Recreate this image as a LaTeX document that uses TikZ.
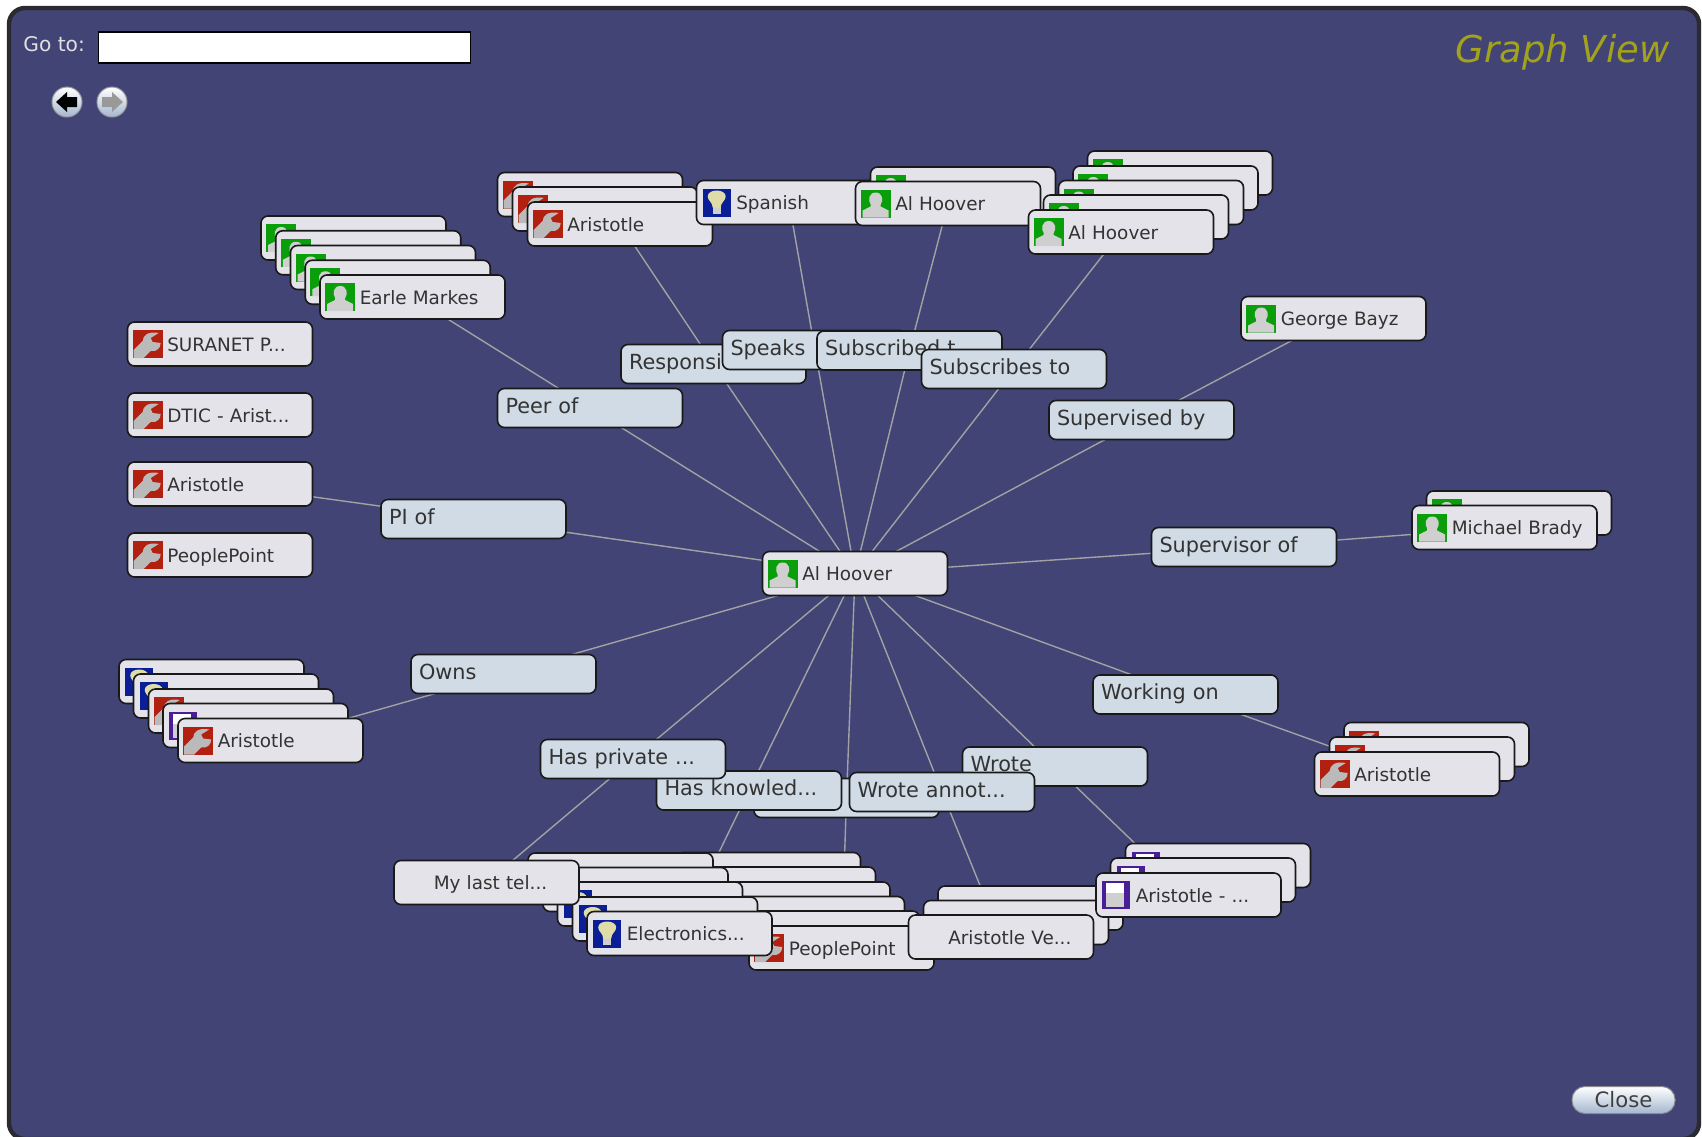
\documentclass[tikz,border=0pt]{standalone}
\usepackage{xcolor}
\usepackage{fontspec}
\setmainfont{DejaVu Sans}
\usepackage{tikz}
\usetikzlibrary{backgrounds}
\definecolor{panelbg}{HTML}{414475}
\definecolor{panelrim}{HTML}{2A2A30}
\definecolor{cardbg}{HTML}{E4E3E9}
\definecolor{labelbg}{HTML}{D0DBE5}
\definecolor{linkgray}{HTML}{A2A2A2}
\definecolor{iconred}{HTML}{B2200F}
\definecolor{icongreen}{HTML}{0A9E0A}
\definecolor{iconblue}{HTML}{0A1E96}
\definecolor{iconpurple}{HTML}{4A1E96}
\definecolor{icongray}{HTML}{CFCFCF}
\definecolor{btnblue}{HTML}{A4B6D0}
\definecolor{titleolive}{HTML}{A3A21C}
\tikzset{
  usericon/.pic={
    \fill[icongreen] (-15,-14) rectangle (15,14);
    \fill[icongray] (-13,14) -- (-13,7) -- (-5,3) -- (-5,1) .. controls (-8,-3) and (-7,-11) .. (0,-11) .. controls (7,-11) and (8,-3) .. (5,1) -- (5,3) -- (13,7) -- (13,14) -- cycle;
  },
  toolicon/.pic={
    \fill[iconred] (-15,-14) rectangle (15,14);
    \fill[icongray!90!black] (11,-11) .. controls (1,-13) and (-5,-9) .. (-5,-3) -- (-14,6) -- (-14,14) -- (-4,14) -- (3,7) .. controls (9,8) and (13,4) .. (13,-1) -- (5,-2) -- (3,-6) -- cycle;
  },
  ideaicon/.pic={
    \fill[iconblue] (-14,-14) rectangle (14,14);
    \fill[icongray] (-4,4) rectangle (4,11);
    \fill[yellow!25!icongray] (-4,5) .. controls (-4,0) and (-9,-2) .. (-9,-6) .. controls (-9,-14) and (9,-14) .. (9,-6) .. controls (9,-2) and (4,0) .. (4,5) -- cycle;
  },
  docicon/.pic={
    \fill[iconpurple] (-14,-14) rectangle (14,14);
    \fill[white] (-10,-12) rectangle (8,12);
    \fill[icongray] (-10,-2) rectangle (8,12);
  }
}
\begin{document}
\begin{tikzpicture}[x=.5pt,y=-.5pt]

\def\cw{92.5pt}
\def\ix{10.5pt}
\tikzstyle{card} = [
	draw=black!90, fill=cardbg, rectangle, rounded corners=3.5pt, line width=.8pt,
	minimum height=22pt, minimum width=\cw, text width=85.5pt, inner xsep=3.5pt,
	inner ysep=0pt, align=left, text=black!80, font=\fontsize{9.2}{11}\selectfont,
	text height=7pt, text depth=0pt,
	execute at begin node={\hspace*{16.4pt}} ];
\tikzstyle{label} = [
	draw=black!90, fill=labelbg, rectangle, rounded corners=3.5pt, line width=.8pt,
	minimum height=19.5pt, minimum width=\cw, text width=84.5pt, inner xsep=4pt,
	inner ysep=0pt, align=left, text=black!80, font=\fontsize{10.4}{12}\selectfont,
	text height=8pt, text depth=3pt ];
\tikzstyle{link} = [draw=linkgray, line width=.7pt];
\tikzstyle{navbtn} = [circle, draw=black!40, line width=.5pt, minimum size=15pt,
	inner sep=0pt, top color=white, bottom color=btnblue];
\useasboundingbox (0,0) rectangle (1702,1136);

% top bar
\node[font=\fontsize{10.1}{12}\selectfont,text=black!12,anchor=west,inner sep=0pt] (goto) at (23,44) {Go to:};
\node[draw=black,fill=white,line width=.7pt,minimum width=186pt,minimum height=15.5pt,inner sep=0pt] (gobox) at (284.5,47.5) {};
\node[navbtn] (back) at (67,102) {};
\node[navbtn] (fwd) at (112,102) {};
\fill[black] (56,102) -- (67,92) -- (67,97) -- (77,97) -- (77,107) -- (67,107) -- (67,112) -- cycle;
\fill[black!40] (123,102) -- (112,92) -- (112,97) -- (102,97) -- (102,107) -- (112,107) -- (112,112) -- cycle;
\node[font=\fontsize{18.5}{22}\selectfont\itshape,text=titleolive,anchor=east,inner sep=0pt] (title) at (1670,52) {Graph View};
\node[draw=black!45,top color=white,bottom color=btnblue,rounded corners=6.5pt,line width=.5pt,
	minimum width=51.5pt,minimum height=13.5pt,inner sep=0pt,text=black!75,font=\fontsize{10.6}{12}\selectfont] (close) at (1623.5,1100) {Close};

% left list
\node[card] (suranet) at (220,344) {SURANET P...};
\pic at ([xshift=\ix]suranet.west) {toolicon};
\node[card] (dtic) at (220,415) {DTIC - Arist...};
\pic at ([xshift=\ix]dtic.west) {toolicon};
\node[card] (pitool) at (220,484) {Aristotle};
\pic at ([xshift=\ix]pitool.west) {toolicon};
\node[card] (ppleft) at (220,555) {PeoplePoint};
\pic at ([xshift=\ix]ppleft.west) {toolicon};

% peer stack
\node[card] (earle1) at (353.5,238) {};
\pic at ([xshift=\ix]earle1.west) {usericon};
\node[card] (earle2) at (368.25,252.75) {};
\pic at ([xshift=\ix]earle2.west) {usericon};
\node[card] (earle3) at (383,267.5) {};
\pic at ([xshift=\ix]earle3.west) {usericon};
\node[card] (earle4) at (397.75,282.25) {};
\pic at ([xshift=\ix]earle4.west) {usericon};
\node[card] (earle5) at (412.5,297) {Earle Markes};
\pic at ([xshift=\ix]earle5.west) {usericon};

% top row
\node[card] (resp1) at (590,194.5) {};
\pic at ([xshift=\ix]resp1.west) {toolicon};
\node[card] (resp2) at (605,209) {};
\pic at ([xshift=\ix]resp2.west) {toolicon};
\node[card] (resp3) at (620,224) {Aristotle};
\pic at ([xshift=\ix]resp3.west) {toolicon};
\node[card] (spanish) at (789,202.5) {Spanish};
\pic at ([xshift=\ix]spanish.west) {ideaicon};
\node[card] (subd1) at (963,189) {};
\pic at ([xshift=\ix]subd1.west) {usericon};
\node[card] (subd2) at (948,203.5) {Al Hoover};
\pic at ([xshift=\ix]subd2.west) {usericon};
\node[card] (subs1) at (1180,173) {};
\pic at ([xshift=\ix]subs1.west) {usericon};
\node[card] (subs2) at (1165.5,188) {};
\pic at ([xshift=\ix]subs2.west) {usericon};
\node[card] (subs3) at (1151,202.5) {};
\pic at ([xshift=\ix]subs3.west) {usericon};
\node[card] (subs4) at (1136,217) {};
\pic at ([xshift=\ix]subs4.west) {usericon};
\node[card] (subs5) at (1121,232) {Al Hoover};
\pic at ([xshift=\ix]subs5.west) {usericon};
\node[card] (george) at (1333.5,318.5) {George Bayz};
\pic at ([xshift=\ix]george.west) {usericon};

% right side
\node[card] (brady1) at (1519,513) {};
\pic at ([xshift=\ix]brady1.west) {usericon};
\node[card] (brady2) at (1504.5,527.5) {Michael Brady};
\pic at ([xshift=\ix]brady2.west) {usericon};
\node[card] (work1) at (1436.5,744.5) {};
\pic at ([xshift=\ix]work1.west) {toolicon};
\node[card] (work2) at (1422,759) {};
\pic at ([xshift=\ix]work2.west) {toolicon};
\node[card] (work3) at (1407,774) {Aristotle};
\pic at ([xshift=\ix]work3.west) {toolicon};

% owned stack
\node[card] (owns1) at (211.5,681.5) {};
\pic at ([xshift=\ix]owns1.west) {ideaicon};
\node[card] (owns2) at (226,696) {};
\pic at ([xshift=\ix]owns2.west) {ideaicon};
\node[card] (owns3) at (241,711) {};
\pic at ([xshift=\ix]owns3.west) {toolicon};
\node[card] (owns4) at (255.5,725.5) {};
\pic at ([xshift=\ix]owns4.west) {docicon};
\node[card] (owns5) at (270.5,740.5) {Aristotle};
\pic at ([xshift=\ix]owns5.west) {toolicon};

% bottom row
\node[card] (hidden1) at (768,874.5) {};
\node[card] (hidden2) at (783,889) {};
\node[card] (hidden3) at (797.5,904) {};
\node[card] (hidden4) at (812,918.5) {};
\node[card] (hidden5) at (827,933) {};
\node[card] (hidden6) at (841.5,948) {PeoplePoint};
\pic at ([xshift=\ix]hidden6.west) {toolicon};
\node[card] (know1) at (620.5,875) {};
\pic at ([xshift=\ix]know1.west) {ideaicon};
\node[card] (know2) at (635.5,889.5) {};
\pic at ([xshift=\ix]know2.west) {ideaicon};
\node[card] (know3) at (650,904) {};
\pic at ([xshift=\ix]know3.west) {ideaicon};
\node[card] (know4) at (665,919) {};
\pic at ([xshift=\ix]know4.west) {ideaicon};
\node[card] (know5) at (679.5,933.5) {Electronics...};
\pic at ([xshift=\ix]know5.west) {ideaicon};
\node[card] (tel) at (486.5,882.5) {My last tel...};
\node[card] (annot1) at (1030.5,908) {};
\node[card] (annot2) at (1016,922.5) {};
\node[card] (annot3) at (1001,937) {Aristotle Ve...};
\node[card] (wrote1) at (1218,865.5) {};
\pic at ([xshift=\ix]wrote1.west) {docicon};
\node[card] (wrote2) at (1203,880) {};
\pic at ([xshift=\ix]wrote2.west) {docicon};
\node[card] (wrote3) at (1188.5,895) {Aristotle - ...};
\pic at ([xshift=\ix]wrote3.west) {docicon};

% hub
\node[card] (hub) at (855,573.5) {Al Hoover};
\pic at ([xshift=\ix]hub.west) {usericon};

% relation labels
\node[label] (peer) at (590,408) {Peer of};
\node[label] (respl) at (713.5,364) {Responsi};
\node[label] (speaks) at (815,350) {Speaks};
\node[label] (subdl) at (909.5,350.5) {Subscribed t};
\node[label] (subsl) at (1014,369) {Subscribes to};
\node[label] (superv) at (1141.5,420) {Supervised by};
\node[label] (supers) at (1244,547) {Supervisor of};
\node[label] (pi) at (473.5,519) {PI of};
\node[label] (ownsl) at (503.5,674) {Owns};
\node[label] (workl) at (1185.5,694.5) {Working on};
\node[label] (hiddenl) at (846.5,798) {};
\node[label] (wrotel) at (1055,766.5) {Wrote};
\node[label] (knowl) at (749,790.5) {Has knowled...};
\node[label] (privl) at (633,759) {Has private ...};
\node[label] (annotl) at (942,792) {Wrote annot...};

\begin{scope}[on background layer]
\fill[white] (0,0) rectangle (1702,1136);
\draw[draw=panelrim,fill=panelbg,line width=2.2pt,rounded corners=8pt] (9,8) rectangle (1699,1139);
\draw[link] (hub.center) -- (peer.center) -- (earle5.center);
\draw[link] (hub.center) -- (respl.center) -- (resp3.center);
\draw[link] (hub.center) -- (speaks.center) -- (spanish.center);
\draw[link] (hub.center) -- (subdl.center) -- (subd2.center);
\draw[link] (hub.center) -- (subsl.center) -- (subs5.center);
\draw[link] (hub.center) -- (superv.center) -- (george.center);
\draw[link] (hub.center) -- (supers.center) -- (brady2.center);
\draw[link] (hub.center) -- (pi.center) -- (pitool.center);
\draw[link] (hub.center) -- (ownsl.center) -- (owns5.center);
\draw[link] (hub.center) -- (workl.center) -- (work3.center);
\draw[link] (hub.center) -- (privl.center) -- (tel.center);
\draw[link] (hub.center) -- (knowl.center) -- (know5.center);
\draw[link] (hub.center) -- (hiddenl.center) -- (hidden6.center);
\draw[link] (hub.center) -- (annotl.center) -- (annot3.center);
\draw[link] (hub.center) -- (wrotel.center) -- (wrote3.center);
\end{scope}

\end{tikzpicture}
\end{document}
